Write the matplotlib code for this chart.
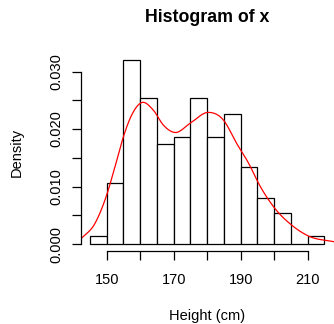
import matplotlib
matplotlib.use("Agg")
import matplotlib.pyplot as plt
import numpy as np

# histogram bins (cm) and counts, n = 150
bin_edges = [145, 150, 155, 160, 165, 170, 175, 180, 185, 190, 195, 200, 205, 210, 215]
counts = [1, 8, 24, 19, 13, 14, 19, 14, 17, 10, 6, 4, 0, 1]

# density curve
curve_x = [142.3, 146.5, 149.8, 152.5, 155.0, 157.5, 160.4, 163.9, 166.9, 170.4,
           174.9, 180.3, 184.8, 188.8, 192.6, 195.3, 200.2, 205.2, 210.2, 217.8]
curve_y = [0.0009, 0.0036, 0.0082, 0.0135, 0.0187, 0.0225, 0.0246, 0.0233, 0.0207, 0.0194,
           0.0210, 0.0229, 0.0216, 0.0175, 0.0138, 0.0106, 0.0062, 0.0033, 0.0014, 0.0004]

x_ticks = [150, 160, 170, 180, 190, 200, 210]
x_tick_labels = ["150", "", "170", "", "190", "", "210"]
y_ticks = [0.000, 0.005, 0.010, 0.015, 0.020, 0.025, 0.030]
y_tick_labels = ["0.000", "", "0.010", "", "0.020", "", "0.030"]


def smooth(px, py, steps=20):
    # catmull-rom through the read points, just for drawing
    px = np.asarray(px); py = np.asarray(py)
    m = np.gradient(py, px)
    out_x, out_y = [], []
    for i in range(len(px) - 1):
        h = px[i + 1] - px[i]
        t = np.linspace(0, 1, steps, endpoint=False)
        h00 = 2 * t**3 - 3 * t**2 + 1
        h10 = t**3 - 2 * t**2 + t
        h01 = -2 * t**3 + 3 * t**2
        h11 = t**3 - t**2
        out_x.extend(px[i] + t * h)
        out_y.extend(h00 * py[i] + h10 * h * m[i] + h01 * py[i + 1] + h11 * h * m[i + 1])
    out_x.append(px[-1]); out_y.append(py[-1])
    return out_x, out_y


plt.rcParams["font.family"] = ["Liberation Sans", "DejaVu Sans"]

W, H = 334, 324
fig = plt.figure(figsize=(W / 100, H / 100), dpi=100)
left, right, top, bottom = 80.6, 333.8, 52.6, 251.4
ax = fig.add_axes([left / W, 1 - bottom / H, (right - left) / W, (bottom - top) / H])

n = sum(counts)
widths = np.diff(bin_edges)
dens = np.array(counts) / (n * widths)
ax.bar(bin_edges[:-1], dens, width=widths, align="edge", facecolor="white",
       edgecolor="black", linewidth=0.9)

xs, ys = smooth(curve_x, curve_y)
ax.plot(xs, ys, color="red", linewidth=0.9)

ax.set_xlim(142.2, 217.8)
ax.set_ylim(-0.00128, 0.0333)
for s in ["top", "right"]:
    ax.spines[s].set_visible(False)
ax.spines["left"].set_bounds(0, 0.03)
ax.spines["bottom"].set_bounds(150, 210)
for s in ["left", "bottom"]:
    ax.spines[s].set_linewidth(0.9)

ax.set_xticks(x_ticks)
ax.set_xticklabels(x_tick_labels)
ax.set_yticks(y_ticks)
ax.set_yticklabels(y_tick_labels, rotation=90, va="center")
ax.tick_params(length=6.5, width=0.9, labelsize=10.5, pad=9)
ax.tick_params(axis="y", pad=6)

fig.text(207.2 / W, 1 - 17 / H, "Histogram of x", ha="center", va="center",
         fontsize=12.8, fontweight="bold")
fig.text(207.2 / W, 1 - 316 / H, "Height (cm)", ha="center", va="center", fontsize=10.5)
fig.text(17 / W, 1 - 152 / H, "Density", ha="center", va="center", rotation=90, fontsize=10.5)

fig.savefig("out.png", dpi=100)
